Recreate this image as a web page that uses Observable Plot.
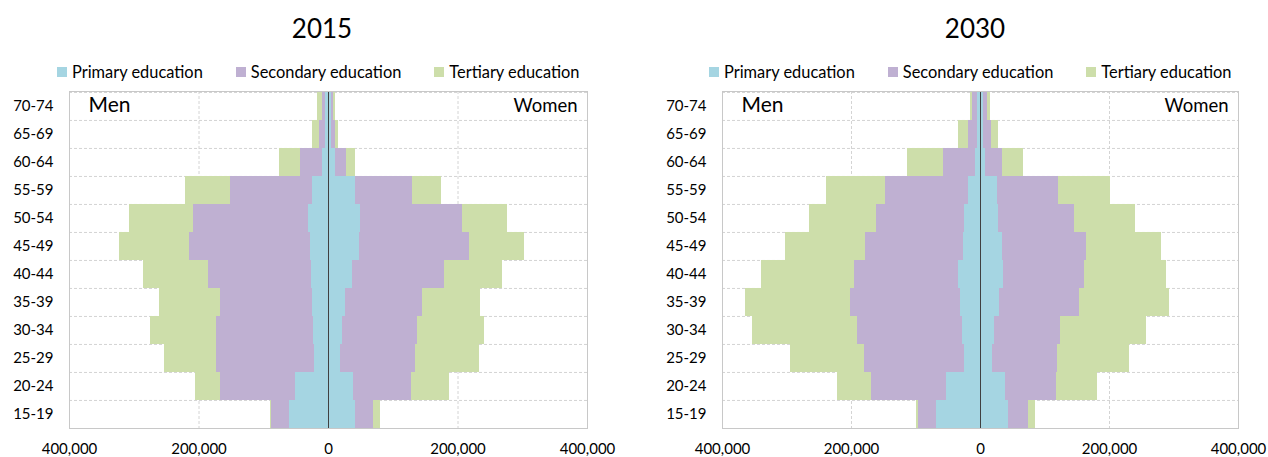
<!DOCTYPE html>
<html><head><meta charset="utf-8">
<script src="https://cdn.jsdelivr.net/npm/d3@7"></script>
<script src="https://cdn.jsdelivr.net/npm/@observablehq/plot@0.6"></script>
<style>
body{margin:0;width:1268px;height:457px;overflow:hidden;background:#fff;font-family:Lato,"Open Sans",sans-serif;color:#000;position:relative}
.panel{position:absolute;top:0;width:634px;height:457px}
.title{position:absolute;top:12px;width:200px;text-align:center;font-size:26px;line-height:32px}
.legend{position:absolute;top:62px;display:flex;align-items:center;font-size:16.4px;line-height:20px;white-space:nowrap}
.legend .item{display:flex;align-items:center;margin-right:33px}
.legend .sw{width:10px;height:10px;margin-right:5px}
.chart{position:absolute;top:84px;left:0}
</style>
</head><body>
<div id="root"></div>
<script>
const ages = ["15-19","20-24","25-29","30-34","35-39","40-44","45-49","50-54","55-59","60-64","65-69","70-74"];
const levels = ["Primary education","Secondary education","Tertiary education"];
const colors = ["#a5d5e2","#bfb0d2","#cddeaa"];

// 2015
const men2015Primary   = [61000,50500,21500,23500,24000,27000,28500,30500,24000,9000,4500,4500];
const men2015Secondary = [26500,116000,151000,149000,143000,158500,186500,178000,127500,35000,10000,5000];
const men2015Tertiary  = [2500,38500,81500,102000,93500,100500,108000,99500,69000,31500,9500,7000];
const women2015Primary   = [41000,38500,19000,21000,25500,37500,47500,50000,41000,10500,4500,4500];
const women2015Secondary = [28500,89000,116000,116000,119500,142000,169500,157000,89500,17000,7000,3500];
const women2015Tertiary  = [11000,59500,98000,104500,90500,88500,86000,70000,44500,13500,4500,2500];

// 2030
const men2030Primary   = [68000,53000,25000,28000,31000,33500,26000,25000,18500,7000,4000,4000];
const men2030Secondary = [27500,116000,155000,162000,171000,162500,152000,137000,128500,50000,14000,8500];
const men2030Tertiary  = [3000,53000,114500,163500,162500,143500,124000,103000,92000,55500,15500,3500];
const women2030Primary   = [44000,38500,18500,21500,29000,35500,33500,28000,26000,7500,5000,5000];
const women2030Secondary = [30500,79500,101500,102500,124500,126500,131000,118000,95000,26500,12500,5500];
const women2030Tertiary  = [10500,64000,111500,134000,140000,126000,116000,95000,81000,33000,10000,4500];

function buildRows(men, women) {
  const rows = [];
  levels.forEach((lvl, l) => {
    ages.forEach((age, i) => {
      rows.push({age, level: lvl, value: -men[l][i]});
      rows.push({age, level: lvl, value: women[l][i]});
    });
  });
  return rows;
}

function panel({left, title, titleX, legendX, men, women, mLeft, mRight}) {
  const div = document.createElement("div");
  div.className = "panel";
  div.style.left = left + "px";
  const t = document.createElement("div");
  t.className = "title";
  t.textContent = title;
  t.style.left = (titleX - left - 100) + "px";
  div.appendChild(t);
  const lg = document.createElement("div");
  lg.className = "legend";
  lg.style.left = (legendX - left) + "px";
  levels.forEach((lvl, i) => {
    const it = document.createElement("div"); it.className = "item";
    const sw = document.createElement("div"); sw.className = "sw"; sw.style.background = colors[i];
    const tx = document.createElement("span"); tx.textContent = lvl;
    it.appendChild(sw); it.appendChild(tx); lg.appendChild(it);
  });
  div.appendChild(lg);

  const width = 634, height = 373, mTop = 7, mBottom = 29;
  const bw = (height - mTop - mBottom) / ages.length;
  const data = buildRows(men, women);
  const chart = Plot.plot({
    width, height,
    marginLeft: mLeft, marginRight: mRight, marginTop: mTop, marginBottom: mBottom,
    style: {fontFamily: "Lato, 'Open Sans', sans-serif", fontSize: "15px", color: "#000", background: "#fff", overflow: "visible"},
    x: {domain: [-400000, 400000], ticks: 4, tickFormat: d => d3.format(",")(Math.abs(d)), tickSize: 0, tickPadding: 15, label: null},
    y: {domain: ages.slice().reverse(), padding: 0, tickSize: 0, tickPadding: 16, label: null},
    color: {domain: levels, range: colors},
    marks: [
      Plot.ruleY(ages, {y: d => d, dy: -bw / 2, stroke: "#d4d4d4", strokeDasharray: "3,2"}),
      Plot.ruleX([-200000, 200000], {stroke: "#d4d4d4", strokeDasharray: "3,2"}),
      Plot.barX(data, Plot.stackX({x: "value", y: "age", fill: "level", shapeRendering: "crispEdges"})),
      Plot.ruleX([0], {stroke: "#404040", strokeWidth: 1}),
      Plot.frame({stroke: "#c8c8c8"}),
      Plot.text(["Men"], {text: d => d, frameAnchor: "top-left", textAnchor: "start", lineAnchor: "top", dx: 19, dy: 6, fontSize: 21}),
      Plot.text(["Women"], {text: d => d, frameAnchor: "top-right", textAnchor: "end", lineAnchor: "top", dx: -10, dy: 7, fontSize: 18.5})
    ]
  });
  const wrap = document.createElement("div");
  wrap.className = "chart";
  wrap.appendChild(chart);
  div.appendChild(wrap);
  document.getElementById("root").appendChild(div);
}

panel({left: 0, title: "2015", titleX: 322, legendX: 57,
  men: [men2015Primary, men2015Secondary, men2015Tertiary],
  women: [women2015Primary, women2015Secondary, women2015Tertiary],
  mLeft: 69, mRight: 47});
panel({left: 634, title: "2030", titleX: 975, legendX: 709,
  men: [men2030Primary, men2030Secondary, men2030Tertiary],
  women: [women2030Primary, women2030Secondary, women2030Tertiary],
  mLeft: 88, mRight: 30});
</script>
</body></html>
